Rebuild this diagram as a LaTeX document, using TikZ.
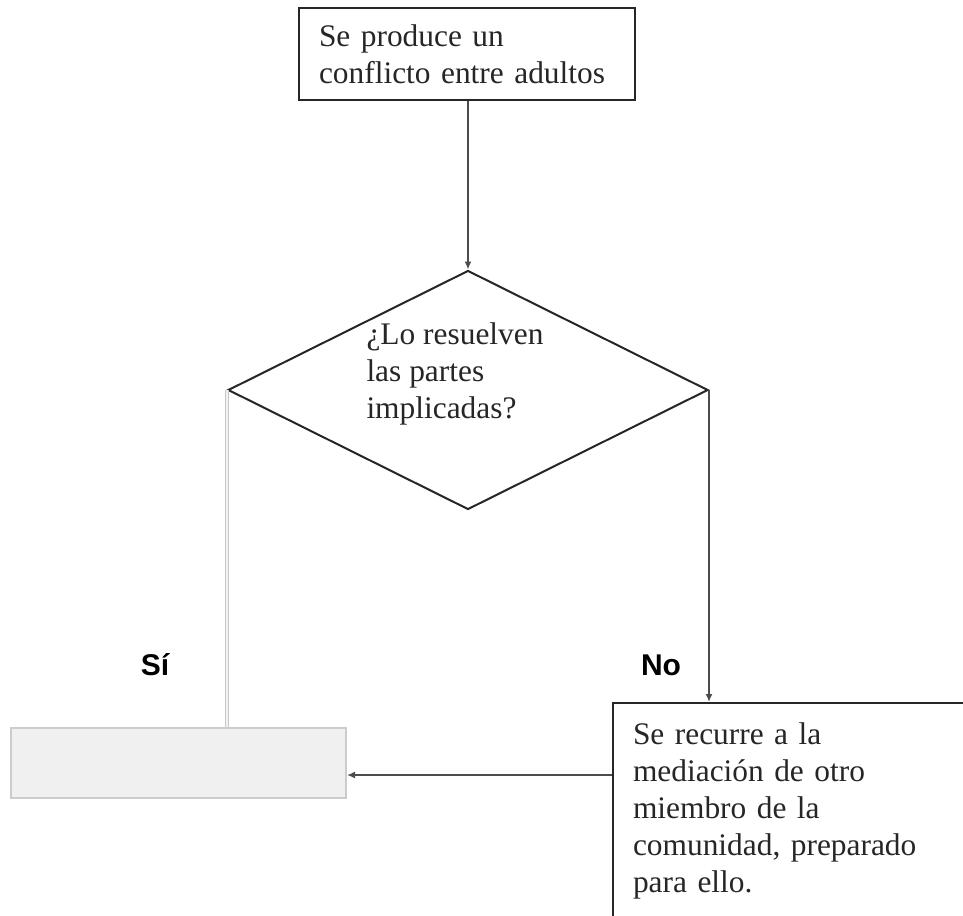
\documentclass[tikz,border=0pt]{standalone}
\usepackage{fontspec}
\setmainfont{Liberation Serif}
\newfontfamily\answerfont{Liberation Sans}
\usetikzlibrary{shapes.geometric,arrows.meta,positioning}

\begin{document}
\begin{tikzpicture}[x=0.5pt, y=-0.5pt,
    every node/.style={font=\fontsize{15.7}{18.5}\selectfont, text=black!85},
    paso/.style={draw=black!85, line width=1pt, align=left, inner xsep=10pt},
    pregunta/.style={diamond, draw=black!85, line width=1pt, minimum width=240pt, minimum height=119.5pt, inner sep=0pt},
    vacio/.style={draw=black!20, fill=black!6, line width=1pt, minimum width=167.5pt, minimum height=35pt, inner sep=0pt},
    respuesta/.style={font=\answerfont\bfseries\fontsize{15}{18}\selectfont, text=black},
    flecha/.style={draw=black!70, line width=0.9pt, -{Latex[length=4pt,width=3.5pt]}},
    ]
  \useasboundingbox (0,0) rectangle (963,915);
  \clip (0,0) rectangle (963,915);

  \node[paso, text width=148pt, minimum height=46pt] (inicio) at (467,54) {Se produce un\\conflicto entre adultos};
  \node[pregunta] (pregunta) at (468,390) {};
  \node[align=left] (textopregunta) at (455,374) {¿Lo resuelven\\las partes\\implicadas?};
  \node[vacio] (vacio) at (178.5,763) {};
  \node[paso, anchor=north west, text width=200pt, inner ysep=10pt] (mediacion) at (612,702)
    {Se recurre a la\\mediación de otro\\miembro de la\\comunidad, preparado\\para ello.};
  \node[respuesta] (si) at (155,665) {Sí};
  \node[respuesta] (no) at (661,665) {No};

  % conectores
  \draw[flecha] (inicio.south -| pregunta.north) -- (pregunta.north);
  \draw[flecha] (pregunta.east) -- (pregunta.east |- mediacion.north);
  \draw[draw=black!22, double=black!5, double distance=0.6pt, line width=0.6pt] (pregunta.west) -- (pregunta.west |- vacio.north);
  \coordinate (llegada) at ([yshift=-6pt]vacio.east);
  \draw[flecha] (llegada -| mediacion.west) -- (llegada);
\end{tikzpicture}
\end{document}
